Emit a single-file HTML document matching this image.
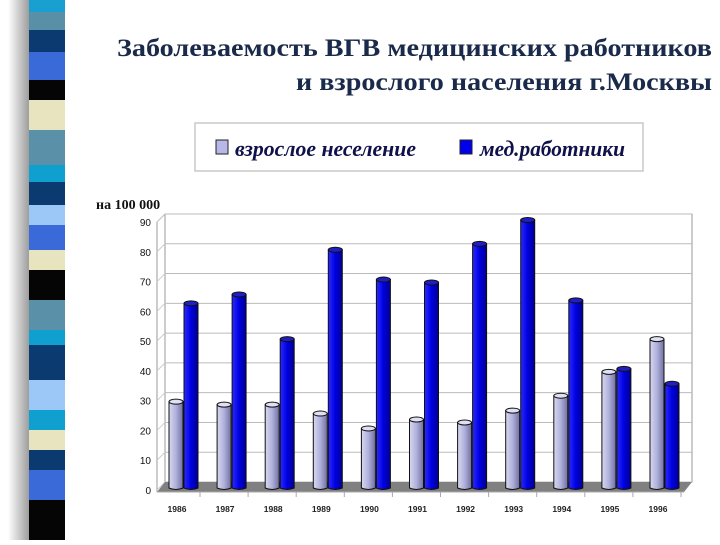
<!DOCTYPE html>
<html><head><meta charset="utf-8"><style>
body{margin:0;width:720px;height:540px;background:#fff;overflow:hidden;font-family:"Liberation Sans",sans-serif}
</style></head><body>
<svg width="720" height="540" xmlns="http://www.w3.org/2000/svg">
<defs>
<linearGradient id="shadow" x1="0" x2="1"><stop offset="0" stop-color="#fff"/><stop offset="1" stop-color="#999"/></linearGradient>
<linearGradient id="gl" x1="0" x2="1"><stop offset="0" stop-color="#d8d8f0"/><stop offset="0.5" stop-color="#b0b0dc"/><stop offset="1" stop-color="#7070a0"/></linearGradient>
<linearGradient id="gd" x1="0" x2="1"><stop offset="0" stop-color="#2a2aff"/><stop offset="0.5" stop-color="#0000e0"/><stop offset="1" stop-color="#000090"/></linearGradient>
</defs>
<rect x="8" y="0" width="22" height="540" fill="url(#shadow)"/>
<g id="strip"></g>
<text x="117" y="56" textLength="595" lengthAdjust="spacingAndGlyphs" font-family="Liberation Serif" font-weight="bold" font-size="25" fill="#1a2a4a">Заболеваемость ВГВ медицинских работников</text>
<text x="296" y="90" textLength="416" lengthAdjust="spacingAndGlyphs" font-family="Liberation Serif" font-weight="bold" font-size="25" fill="#1a2a4a">и взрослого населения г.Москвы</text>
<g>
<rect x="195" y="123" width="448" height="48" fill="#fff" stroke="#c8c8c8" stroke-width="1.5"/>
<rect x="216" y="140" width="12" height="14" fill="#b8b8e8" stroke="#222"/>
<text x="235" y="156" textLength="181" lengthAdjust="spacingAndGlyphs" font-family="Liberation Serif" font-style="italic" font-weight="bold" font-size="22" fill="#10104a">взрослое неселение</text>
<rect x="460" y="140" width="12" height="14" fill="#0000ee" stroke="#222"/>
<text x="480" y="156" textLength="145" lengthAdjust="spacingAndGlyphs" font-family="Liberation Serif" font-style="italic" font-weight="bold" font-size="22" fill="#10104a">мед.работники</text>
</g>
<text x="96" y="209" font-family="Liberation Serif" font-weight="bold" font-size="14" fill="#111">на 100 000</text>
<g id="chart"></g>
</svg>
<script>
const categories=["1986","1987","1988","1989","1990","1991","1992","1993","1994","1995","1996"];
const adultValues=[29,28,28,25,20,23,22,26,31,39,50];
const medicalValues=[62,65,50,80,70,69,82,90,63,40,35];
const yTicks=[0,10,20,30,40,50,60,70,80,90];
const stripeColors=["#1aa0d0","#5a8fa8","#0a3a70","#3a6ad8","#050505","#e8e4c0","#5a90a8","#10a0d0","#0a3a70","#9cc8f8","#3a6ad8","#e8e4c0","#050505","#5a90a8","#10a0d0","#0a3a70","#9cc8f8","#10a0d0","#e8e4c0","#0a3a70","#3a6ad8","#050505"];
const stripeEnds=[12,30,52,80,100,130,165,182,205,225,250,270,300,330,345,380,410,430,450,470,500,540];
const NS="http://www.w3.org/2000/svg";
function mk(t,a,p){const e=document.createElementNS(NS,t);for(const k in a)e.setAttribute(k,a[k]);p.appendChild(e);return e;}
const strip=document.getElementById('strip');
let y0=0;
stripeColors.forEach((c,i)=>{const r=mk('rect',{x:29,y:y0,width:36,height:stripeEnds[i]-y0,fill:c},strip);


y0=stripeEnds[i];});
const g=document.getElementById('chart');
const wallL=165,wallR=692,wallB=482,wallTop=214,vmax=90;
const gy=v=>wallB-(wallB-wallTop)*v/vmax;
const barB=488,barTop=220;
const by=v=>barB-(barB-barTop)*v/vmax;
const cx=i=>176+i*48.1;
mk('rect',{x:wallL,y:wallTop,width:wallR-wallL,height:wallB-wallTop,fill:"#fff",stroke:"#999"},g);
mk('line',{x1:157,y1:222,x2:wallL,y2:wallTop,stroke:"#999"},g);
mk('line',{x1:157,y1:222,x2:157,y2:492,stroke:"#999"},g);
yTicks.forEach(v=>{
 const l=mk('line',{x1:wallL,y1:gy(v),x2:wallR,y2:gy(v),stroke:"#bbb"},g);
 
 
 mk('line',{x1:157,y1:gy(v)+8,x2:wallL,y2:gy(v),stroke:"#ccc"},g);
 const t=mk('text',{x:151,y:gy(v)+12,"text-anchor":"end","font-size":"10","fill":"#111"},g);
 t.textContent=v;
 
 
});
const fl=mk('polygon',{points:`157,492 ${wallL},${wallB} ${wallR},${wallB} 684,492`,fill:"#808080"},g);


mk('line',{x1:157,y1:492,x2:684,y2:492,stroke:"#aaa"},g);
function bar(x,v,fill,name){
 const w=14,top=by(v);
 const gr=mk('g',{},g);
 
 
 mk('path',{d:`M${x} ${top} L${x} ${barB} Q${x+w/2} ${barB+3} ${x+w} ${barB} L${x+w} ${top} Z`,fill:fill,stroke:"#111","stroke-width":1},gr);
 mk('ellipse',{cx:x+w/2,cy:top,rx:w/2,ry:2.5,fill:fill==="url(#gl)"?"#e0e0f4":"#2020c0",stroke:"#111","stroke-width":1},gr);
}
categories.forEach((c,i)=>{
 bar(cx(i)-7,adultValues[i],"url(#gl)",'bar-adult-'+c);
 bar(cx(i)+8,medicalValues[i],"url(#gd)",'bar-medical-'+c);
 const t=mk('text',{x:cx(i)+1,y:512,"text-anchor":"middle","font-size":"8.5","font-weight":"bold","fill":"#222"},g);
 t.textContent=c;
 
 
 mk('line',{x1:cx(i)+24,y1:492,x2:cx(i)+24,y2:497,stroke:"#aaa"},g);
});
</script>
</body></html>
